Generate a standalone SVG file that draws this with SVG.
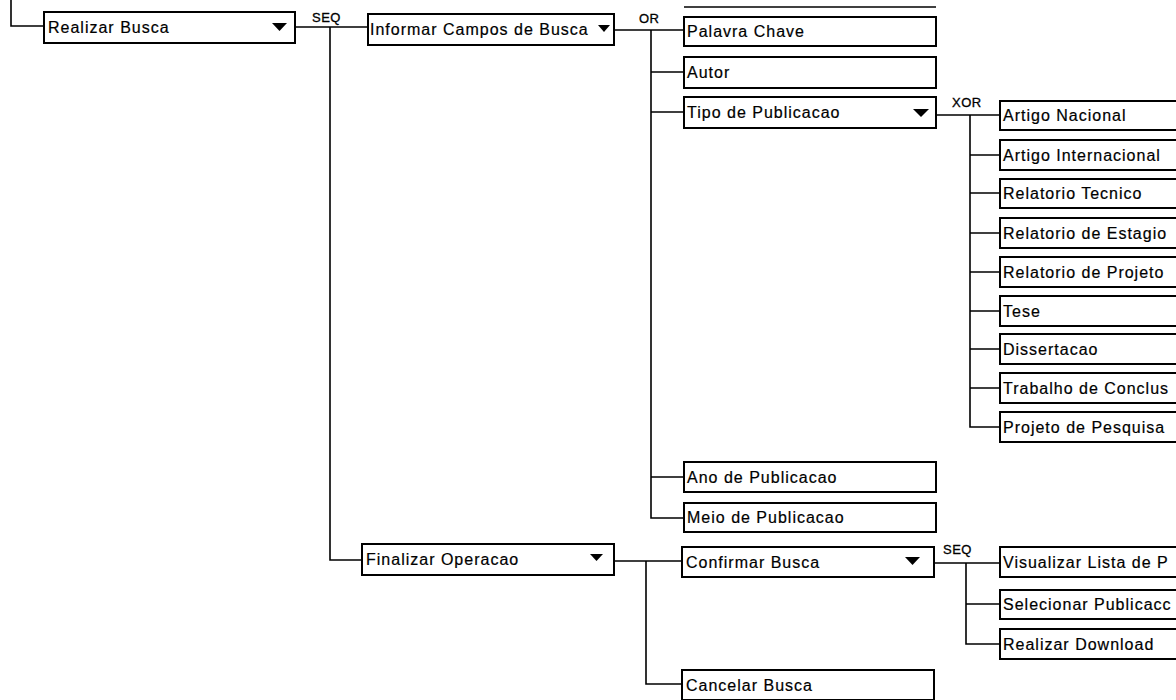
<svg xmlns="http://www.w3.org/2000/svg" width="1176" height="700" viewBox="0 0 1176 700">
<style>
.box{fill:#fff;stroke:#000;stroke-width:2}
.t{font-family:"Liberation Sans",Arial,sans-serif;font-size:16px;letter-spacing:1px;fill:#000;stroke:#000;stroke-width:0.2}
.op{font-family:"Liberation Sans",Arial,sans-serif;font-size:13px;letter-spacing:0.5px;fill:#000;stroke:#000;stroke-width:0.3}
.c{fill:none;stroke:#000;stroke-width:1.6}
.tri{fill:#000}
</style>
<rect width="1176" height="700" fill="#fff"/>
<g id="connectors">
<path class="c" d="M11,0 V26 H44"/>
<path class="c" d="M295,27 H368 M330,27 V560 H362"/>
<path class="c" d="M614,30 H684 M651,30 V518 H684 M651,72 H684 M651,112 H684 M651,477 H684"/>
<path class="c" d="M936,115 H1000 M970,115 V427 H1000 M970,155 H1000 M970,193 H1000 M970,233 H1000 M970,272 H1000 M970,311 H1000 M970,349 H1000 M970,388 H1000"/>
<path class="c" d="M614,561 H684 M646,561 V684 H684"/>
<path class="c" d="M934,563 H1000 M966,563 V644 H1000 M966,604 H1000"/>
<line class="c" x1="684" y1="7" x2="936" y2="7"/>
<text class="op" x="312" y="22">SEQ</text>
<text class="op" x="639" y="23">OR</text>
<text class="op" x="952" y="107">XOR</text>
<text class="op" x="943" y="554">SEQ</text>
</g>
<g id="n-realizar-busca"><rect class="box" x="44" y="12" width="251" height="31"/><text class="t" x="48" y="33">Realizar Busca</text><polygon class="tri" points="272,23 287,23 279.5,31"/></g>
<g id="n-informar"><rect class="box" x="368" y="14" width="246" height="31"/><text class="t" x="370" y="35">Informar Campos de Busca</text><polygon class="tri" points="598,25 610,25 604,32"/></g>
<g id="n-palavra"><rect class="box" x="684" y="17" width="252" height="29"/><text class="t" x="687" y="37">Palavra Chave</text></g>
<g id="n-autor"><rect class="box" x="684" y="57" width="252" height="31"/><text class="t" x="687" y="78">Autor</text></g>
<g id="n-tipo"><rect class="box" x="684" y="97" width="252" height="31"/><text class="t" x="687" y="118">Tipo de Publicacao</text><polygon class="tri" points="913,109 929,109 921,117"/></g>
<g id="n-artigo-nac"><rect class="box" x="1000" y="101" width="200" height="29"/><text class="t" x="1003" y="121">Artigo Nacional</text></g>
<g id="n-artigo-int"><rect class="box" x="1000" y="140" width="200" height="30"/><text class="t" x="1003" y="161">Artigo Internacional</text></g>
<g id="n-rel-tec"><rect class="box" x="1000" y="179" width="200" height="29"/><text class="t" x="1003" y="199">Relatorio Tecnico</text></g>
<g id="n-rel-est"><rect class="box" x="1000" y="218" width="200" height="30"/><text class="t" x="1003" y="239">Relatorio de Estagio</text></g>
<g id="n-rel-proj"><rect class="box" x="1000" y="257" width="200" height="30"/><text class="t" x="1003" y="278">Relatorio de Projeto</text></g>
<g id="n-tese"><rect class="box" x="1000" y="296" width="200" height="30"/><text class="t" x="1003" y="317">Tese</text></g>
<g id="n-dissertacao"><rect class="box" x="1000" y="334" width="200" height="30"/><text class="t" x="1003" y="355">Dissertacao</text></g>
<g id="n-trabalho"><rect class="box" x="1000" y="373" width="200" height="30"/><text class="t" x="1003" y="394">Trabalho de Conclus</text></g>
<g id="n-projeto"><rect class="box" x="1000" y="412" width="200" height="30"/><text class="t" x="1003" y="433">Projeto de Pesquisa</text></g>
<g id="n-ano"><rect class="box" x="684" y="462" width="252" height="30"/><text class="t" x="687" y="483">Ano de Publicacao</text></g>
<g id="n-meio"><rect class="box" x="684" y="503" width="252" height="29"/><text class="t" x="687" y="523">Meio de Publicacao</text></g>
<g id="n-finalizar"><rect class="box" x="362" y="544" width="252" height="31"/><text class="t" x="366" y="565">Finalizar Operacao</text><polygon class="tri" points="590,554 603,554 596.5,561"/></g>
<g id="n-confirmar"><rect class="box" x="682" y="547" width="252" height="30"/><text class="t" x="686" y="568">Confirmar Busca</text><polygon class="tri" points="905,557 920,557 912.5,565"/></g>
<g id="n-visualizar"><rect class="box" x="1000" y="547" width="200" height="30"/><text class="t" x="1003" y="568">Visualizar Lista de P</text></g>
<g id="n-selecionar"><rect class="box" x="1000" y="590" width="200" height="29"/><text class="t" x="1003" y="610">Selecionar Publicacc</text></g>
<g id="n-download"><rect class="box" x="1000" y="629" width="200" height="30"/><text class="t" x="1003" y="650">Realizar Download</text></g>
<g id="n-cancelar"><rect class="box" x="682" y="670" width="252" height="30"/><text class="t" x="686" y="691">Cancelar Busca</text></g>
</svg>
